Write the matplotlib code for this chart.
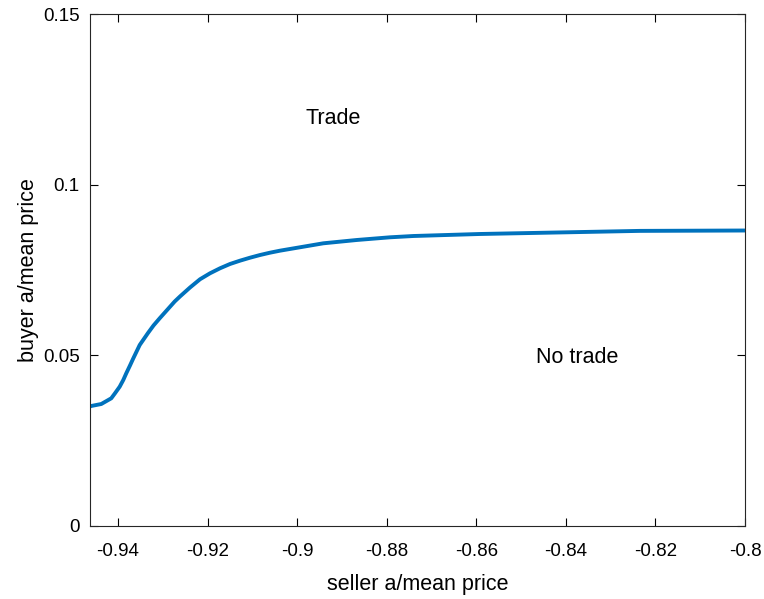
import matplotlib
matplotlib.use("Agg")
import matplotlib.pyplot as plt

# boundary between trade / no trade regions
seller_a = [-0.94625, -0.94596, -0.94373, -0.94150, -0.94067, -0.93962, -0.93882,
            -0.93815, -0.93732, -0.93665, -0.93515, -0.93330, -0.93207, -0.93069,
            -0.92734, -0.92616, -0.92392, -0.92169, -0.91946, -0.91722, -0.91499,
            -0.91276, -0.91053, -0.90829, -0.90606, -0.90383, -0.89416, -0.88670,
            -0.87926, -0.87406, -0.85917, -0.84428, -0.82344, -0.8]
buyer_a = [0.03501, 0.03516, 0.03574, 0.03741, 0.03888, 0.04081, 0.04277,
           0.04474, 0.04702, 0.04893, 0.05303, 0.05654, 0.05874, 0.06085,
           0.06577, 0.06724, 0.06987, 0.07228, 0.07403, 0.07550, 0.07676,
           0.07773, 0.07860, 0.07939, 0.08007, 0.08066, 0.08282, 0.08379,
           0.08458, 0.08496, 0.08555, 0.08593, 0.08646, 0.08657]

xticks = [-0.94, -0.92, -0.9, -0.88, -0.86, -0.84, -0.82, -0.8]
xtick_labels = ["-0.94", "-0.92", "-0.9", "-0.88", "-0.86", "-0.84", "-0.82", "-0.8"]
yticks = [0, 0.05, 0.1, 0.15]
ytick_labels = ["0", "0.05", "0.1", "0.15"]

plt.rcParams['font.family'] = ['Liberation Sans', 'DejaVu Sans']

fig = plt.figure(figsize=(7.64, 5.99), dpi=100)
ax = fig.add_axes([0.1178, 0.1219, 0.8573, 0.8547])
ax.plot(seller_a, buyer_a, color="#0072BD", linewidth=2.8,
        solid_capstyle="butt", solid_joinstyle="round")

ax.set_xlim(-0.94625, -0.8)
ax.set_ylim(0, 0.15)
ax.set_xticks(xticks)
ax.set_xticklabels(xtick_labels)
ax.set_yticks(yticks)
ax.set_yticklabels(ytick_labels)
ax.tick_params(direction="in", top=True, right=True, labelsize=13.5, length=6,
               width=0.8)
ax.tick_params(axis="x", pad=12)
ax.tick_params(axis="y", pad=7.5)
for s in ax.spines.values():
    s.set_linewidth(0.8)
    s.set_color("#262626")

ax.set_xlabel("seller a/mean price", fontsize=15.5, labelpad=10)
ax.set_ylabel("buyer a/mean price", fontsize=15.5, labelpad=3)

ax.text(-0.89199, 0.1195, "Trade", fontsize=15.5, ha="center", va="center")
ax.text(-0.8374, 0.0495, "No trade", fontsize=15.5, ha="center", va="center")

fig.savefig("out.png", dpi=100)
